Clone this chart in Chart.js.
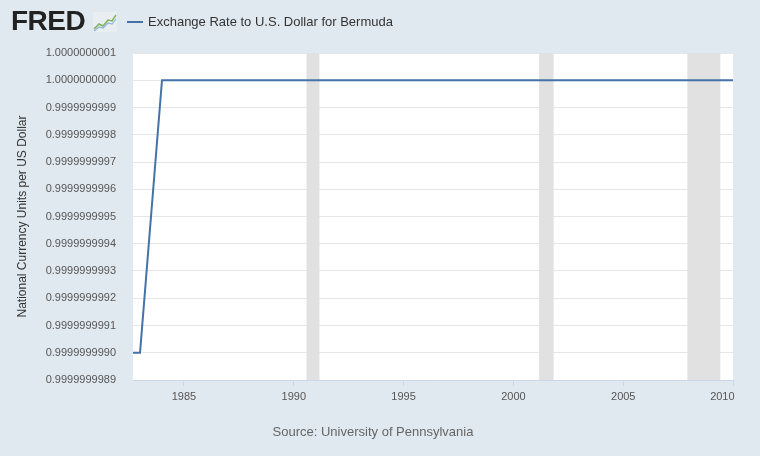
<!DOCTYPE html>
<html>
<head>
<meta charset="utf-8">
<script src="https://cdn.jsdelivr.net/npm/chart.js@4.4.0/dist/chart.umd.min.js"></script>
<style>
  html, body { margin: 0; padding: 0; }
  body { width: 760px; height: 456px; overflow: hidden; font-family: "Liberation Sans", Arial, sans-serif; }
  .wrap { position: relative; width: 760px; height: 456px; background: #e1e9f0; }
  canvas { position: absolute; left: 0; top: 0; }
  .logo { position: absolute; left: 11px; top: 5px; font-weight: bold; font-size: 28px; color: #222; letter-spacing: -0.5px; }
  .icon { position: absolute; left: 93px; top: 12px; }
  .legend { position: absolute; left: 127px; top: 14px; font-size: 13px; color: #333; }
  .legend .dash { display: inline-block; width: 16px; height: 2px; background: #4572a7; vertical-align: middle; margin-right: 5px; position: relative; top: -1px; }
  .source { position: absolute; left: 0; width: 746px; top: 424px; text-align: center; font-size: 13px; color: #666; }
</style>
</head>
<body>
<div class="wrap">
  <canvas id="chart" width="760" height="456"></canvas>
  <div class="logo">FRED</div>
  <svg class="icon" width="24" height="20" viewBox="0 0 24 20">
    <rect x="0" y="0" width="24" height="20" fill="#e8eef2"/>
    <polyline points="1,17 6,12 10,14 15,8 19,9 23,3" fill="none" stroke="#7fb35a" stroke-width="1.5"/>
    <polyline points="1,19 6,15 10,16 15,11 19,12 23,7" fill="none" stroke="#8fb4d6" stroke-width="1.2"/>
  </svg>
  <div class="legend"><span class="dash"></span>Exchange Rate to U.S. Dollar for Bermuda</div>
  <div class="source">Source: University of Pennsylvania</div>
</div>
<script>
const years = [1982, 1983, 1984, 1985, 1986, 1987, 1988, 1989, 1990, 1991, 1992, 1993, 1994, 1995,
  1996, 1997, 1998, 1999, 2000, 2001, 2002, 2003, 2004, 2005, 2006, 2007, 2008, 2009, 2010];
const rates = [0.999999999, 0.999999999, 1, 1, 1, 1, 1, 1, 1, 1, 1, 1, 1, 1,
  1, 1, 1, 1, 1, 1, 1, 1, 1, 1, 1, 1, 1, 1, 1];

const xTicks = [1985, 1990, 1995, 2000, 2005, 2010];
const yTicks = [0.9999999989, 0.9999999990, 0.9999999991, 0.9999999992, 0.9999999993, 0.9999999994,
  0.9999999995, 0.9999999996, 0.9999999997, 0.9999999998, 0.9999999999, 1.0000000000, 1.0000000001];

// recessions as [start, end] in fractional years
const recessions = [[1990.58, 1991.17], [2001.17, 2001.83], [2007.92, 2009.42]];

const recessionShading = {
  id: 'recessionShading',
  beforeDatasetsDraw(chart) {
    const { ctx, chartArea, scales } = chart;
    ctx.save();
    ctx.fillStyle = '#e1e1e1';
    recessions.forEach(r => {
      const x1 = Math.max(scales.x.getPixelForValue(r[0]), chartArea.left);
      const x2 = Math.min(scales.x.getPixelForValue(r[1]), chartArea.right);
      ctx.fillRect(x1, chartArea.top, x2 - x1, chartArea.bottom - chartArea.top);
    });
    ctx.restore();
  }
};

const plotBackground = {
  id: 'plotBackground',
  beforeDraw(chart) {
    const { ctx, chartArea } = chart;
    ctx.save();
    ctx.fillStyle = '#ffffff';
    ctx.fillRect(chartArea.left, chartArea.top, chartArea.right - chartArea.left, chartArea.bottom - chartArea.top);
    ctx.restore();
  }
};

new Chart(document.getElementById('chart'), {
  type: 'line',
  data: {
    datasets: [{
      label: 'Exchange Rate to U.S. Dollar for Bermuda',
      data: years.map((y, i) => ({ x: y, y: rates[i] })),
      borderColor: '#4572a7',
      borderWidth: 2,
      pointRadius: 0,
      tension: 0
    }]
  },
  options: {
    responsive: false,
    animation: false,
    layout: { padding: { top: 53, right: 26, left: 0, bottom: 0 } },
    plugins: { legend: { display: false }, tooltip: { enabled: false } },
    scales: {
      x: {
        type: 'linear',
        min: 1982.68,
        max: 2010,
        afterFit(scale) { scale.height = 76; },
        afterBuildTicks(scale) { scale.ticks = xTicks.map(v => ({ value: v })); },
        ticks: {
          // last label sits flush with the right edge, like the original
          callback: v => v === 2010 ? '2010       ' : String(v),
          color: '#555',
          font: { family: 'Liberation Sans, Arial', size: 11 },
          padding: 4,
          maxRotation: 0
        },
        grid: { drawOnChartArea: false, color: '#ccd6eb', tickLength: 6 },
        border: { color: '#ccd6eb' }
      },
      y: {
        min: 0.9999999989,
        max: 1.0000000001,
        afterFit(scale) { scale.width = 133; },
        afterBuildTicks(scale) { scale.ticks = yTicks.map(v => ({ value: v })); },
        ticks: {
          callback: v => v.toFixed(10),
          color: '#555',
          font: { family: 'Liberation Sans, Arial', size: 11 },
          padding: 17
        },
        grid: { color: '#e6e6e6', drawTicks: false },
        border: { display: false },
        title: {
          display: true,
          text: 'National Currency Units per US Dollar',
          color: '#333',
          font: { family: 'Liberation Sans, Arial', size: 12 },
          padding: { top: 15, bottom: 0 }
        }
      }
    }
  },
  plugins: [plotBackground, recessionShading]
});
</script>
</body>
</html>
